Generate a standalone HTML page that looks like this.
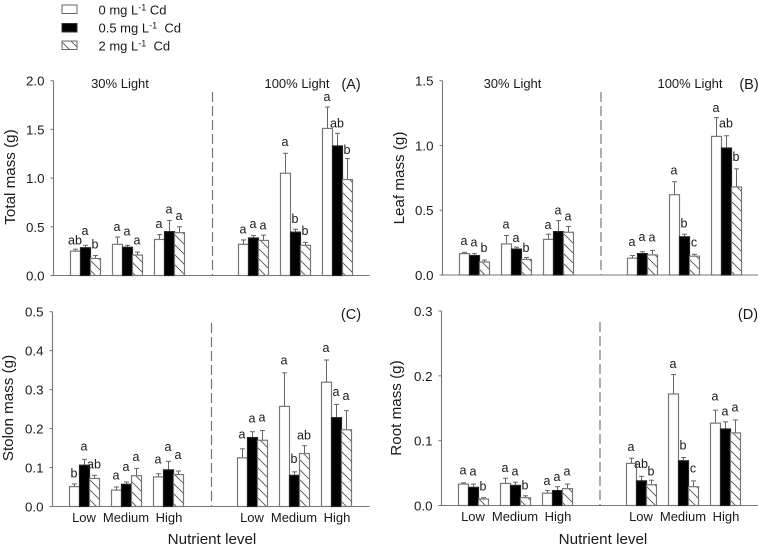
<!DOCTYPE html>
<html>
<head>
<meta charset="utf-8">
<title>Biomass by nutrient level, light and Cd</title>
<style>
html,body{margin:0;padding:0;background:#fff;width:758px;height:547px;overflow:hidden}
svg{display:block}
text{font-family:"Liberation Sans",Arial,sans-serif;fill:#1a1a1a}
.tick{font-size:13.3px;text-anchor:end}
.title{font-size:15.2px;text-anchor:middle}
.hdr{font-size:13px;text-anchor:middle}
.tag{font-size:14.5px;text-anchor:middle}
.leg{font-size:13px}
.sup{font-size:9px}
.let{font-size:12.5px;text-anchor:middle}
.cat{font-size:13px;text-anchor:middle}
</style>
</head>
<body>
<svg id="chart" width="758" height="547" viewBox="0 0 758 547" xmlns="http://www.w3.org/2000/svg">
<defs>
<pattern id="hatch" patternUnits="userSpaceOnUse" width="10" height="10">
<path d="M-2,-2 L12,12 M-2,8 L2,12 M8,-2 L12,2" stroke="#555" stroke-width="0.9" fill="none"/>
</pattern>
</defs>

<g>
<rect x="62" y="5" width="15" height="8.5" fill="#fff" stroke="#666"/>
<text class="leg" x="98.5" y="14.5">0 mg L<tspan class="sup" dy="-4">-1</tspan><tspan dy="4"> Cd</tspan></text>
<rect x="62" y="23.5" width="15" height="8.5" fill="#000" stroke="#333"/>
<text class="leg" x="98.5" y="32.5">0.5 mg L<tspan class="sup" dy="-4">-1</tspan><tspan dy="4" xml:space="preserve">  Cd</tspan></text>
<rect x="62" y="41" width="15" height="8.5" fill="url(#hatch)" stroke="#666"/>
<text class="leg" x="98.5" y="50.5">2 mg L<tspan class="sup" dy="-4">-1</tspan><tspan dy="4" xml:space="preserve">  Cd</tspan></text>
</g>

<text class="title" transform="translate(15,177) rotate(-90)">Total mass (g)</text>
<text class="title" transform="translate(404,178) rotate(-90)">Leaf mass (g)</text>
<text class="title" transform="translate(13,408) rotate(-90)">Stolon mass (g)</text>
<text class="title" transform="translate(401,408) rotate(-90)">Root mass (g)</text>

<text class="hdr" x="120" y="88">30% Light</text>
<text class="hdr" x="297" y="88">100% Light</text>
<text class="tag" x="351" y="89">(A)</text>
<text class="hdr" x="512.5" y="88">30% Light</text>
<text class="hdr" x="690" y="88">100% Light</text>
<text class="tag" x="749" y="89">(B)</text>
<text class="tag" x="351" y="319">(C)</text>
<text class="tag" x="748" y="319">(D)</text>

<text class="title" x="212" y="544">Nutrient level</text>
<text class="title" x="603" y="544">Nutrient level</text>
</svg>

<script>
const categories = ["Low", "Medium", "High", "Low", "Medium", "High"];
const series = ["0 mg Cd", "0.5 mg Cd", "2 mg Cd"];

const totalTicks = ["0.0", "0.5", "1.0", "1.5", "2.0"];
const totalMeans = [0.25,0.285,0.175, 0.32,0.29,0.21, 0.37,0.45,0.44, 0.32,0.385,0.36, 1.05,0.445,0.31, 1.51,1.33,0.985];
const totalUppers = [0.27,0.31,0.205, 0.395,0.31,0.24, 0.42,0.565,0.50, 0.365,0.41,0.415, 1.255,0.475,0.34, 1.73,1.46,1.2];
const totalLetters = ["ab","a","b", "a","a","a", "a","a","a", "a","a","a", "a","b","b", "a","ab","b"];
const totalLetterLevels = [0.32,0.415,0.277, 0.455,0.41,0.32, 0.49,0.637,0.57, 0.43,0.49,0.47, 1.33,0.54,0.415, 1.79,1.52,1.25];

const leafTicks = ["0.0", "0.5", "1.0", "1.5"];
const leafMeans = [0.165,0.15,0.10, 0.24,0.2,0.12, 0.275,0.335,0.33, 0.13,0.165,0.155, 0.62,0.295,0.145, 1.07,0.98,0.68];
const leafUppers = [0.175,0.165,0.115, 0.305,0.215,0.135, 0.315,0.42,0.375, 0.15,0.18,0.19, 0.72,0.315,0.16, 1.215,1.075,0.82];
const leafLetters = ["a","a","b", "a","a","b", "a","a","a", "a","a","a", "a","b","c", "a","ab","b"];
const leafLetterLevels = [0.23,0.22,0.178, 0.36,0.255,0.178, 0.355,0.468,0.42, 0.224,0.262,0.257, 0.777,0.368,0.219, 1.26,1.14,0.88];

const stolonTicks = ["0.0", "0.1", "0.2", "0.3", "0.4", "0.5"];
const stolonMeans = [0.051,0.106,0.072, 0.042,0.057,0.079, 0.076,0.094,0.082, 0.125,0.177,0.17, 0.257,0.08,0.136, 0.319,0.228,0.197];
const stolonUppers = [0.058,0.121,0.08, 0.05,0.063,0.098, 0.084,0.116,0.091, 0.148,0.192,0.195, 0.343,0.089,0.156, 0.376,0.262,0.246];
const stolonLetters = ["b","a","ab", "a","a","a", "a","a","a", "a","a","a", "a","b","ab", "a","a","a"];
const stolonLetterLevels = [0.074,0.144,0.097, 0.069,0.091,0.117, 0.111,0.142,0.122, 0.174,0.216,0.218, 0.365,0.112,0.172, 0.397,0.284,0.273];

const rootTicks = ["0.0", "0.1", "0.2", "0.3"];
const rootMeans = [0.033,0.028,0.01, 0.034,0.031,0.012, 0.019,0.023,0.026, 0.065,0.038,0.032, 0.172,0.069,0.029, 0.127,0.118,0.112];
const rootUppers = [0.035,0.033,0.012, 0.042,0.036,0.015, 0.023,0.029,0.033, 0.073,0.045,0.039, 0.202,0.074,0.038, 0.147,0.129,0.132];
const rootLetters = ["a","a","b", "a","a","b", "a","a","a", "a","ab","b", "a","b","c", "a","a","a"];
const rootLetterLevels = [0.048,0.046,0.023, 0.052,0.046,0.025, 0.032,0.038,0.046, 0.084,0.058,0.046, 0.212,0.086,0.051, 0.162,0.139,0.145];

const NS = "http://www.w3.org/2000/svg";
const svg = document.getElementById("chart");
const AXIS = "#777";
const BAR_W = 10;
const PITCH = 42;

function make(parent, tag, attrs) {
  const el = document.createElementNS(NS, tag);
  for (const k in attrs) el.setAttribute(k, attrs[k]);
  parent.appendChild(el);
  return el;
}

function drawPanel(p) {
  const yMax = parseFloat(p.ticks[p.ticks.length - 1]);
  const yScale = v => p.y0 - (v / yMax) * (p.y0 - p.yTop);
  const groupX = g => (g < 3 ? p.start1 + g * PITCH : p.start2 + (g - 3) * PITCH);
  const barX = (g, s) => groupX(g) + s * BAR_W;

  const root = make(svg, "g", {});
  
  

  const yAxis = make(root, "line", {x1: p.x0, x2: p.x0, y1: p.yTop, y2: p.y0, stroke: AXIS, "stroke-width": 1.1});
  
  

  const xAxis = make(root, "line", {x1: p.x0 - 3, x2: p.xEnd, y1: p.y0, y2: p.y0, stroke: AXIS, "stroke-width": 1.1});
  
  

  const divider = make(root, "line", {x1: p.dashX, x2: p.dashX, y1: p.dashTop, y2: p.y0, stroke: "#777", "stroke-width": 1.2, "stroke-dasharray": "10 4"});
  
  

  p.ticks.forEach(t => {
    const y = yScale(parseFloat(t));
    const mark = make(root, "line", {x1: p.x0 - 3, x2: p.x0, y1: y, y2: y, stroke: AXIS, "stroke-width": 1});
    
    
    const lab = make(root, "text", {class: "tick", x: p.x0 - 9, y: y + 5});
    lab.textContent = t;
    
    
  });

  for (let g = 0; g < categories.length; g++) {
    for (let s = 0; s < series.length; s++) {
      const i = g * series.length + s;
      const x = barX(g, s);
      const cx = x + BAR_W / 2;
      const top = yScale(p.means[i]);
      const up = yScale(p.uppers[i]);

      const stem = make(root, "line", {x1: cx, x2: cx, y1: top, y2: up, stroke: "#666", "stroke-width": 1});
      
      
      const cap = make(root, "line", {x1: cx - 2.5, x2: cx + 2.5, y1: up, y2: up, stroke: "#666", "stroke-width": 1});
      
      

      const fills = ["#fff", "#000", "url(#hatch)"];
      if (s === 2) make(root, "rect", {x: x, y: top, width: BAR_W, height: p.y0 - top, fill: "#fff"});
      const bar = make(root, "rect", {x: x, y: top, width: BAR_W, height: p.y0 - top, fill: fills[s], stroke: s === 1 ? "#222" : "#777", "stroke-width": 1.2});
      
      
      bar.setAttribute('aria-label', categories[g] + " " + series[s]);

      const let_ = make(root, "text", {class: "let", x: cx - 0.5, y: yScale(p.levels[i])});
      let_.textContent = p.letters[i];
      
      
    }
    if (p.showCats) {
      const c = make(root, "text", {class: "cat", x: groupX(g) + BAR_W * 1.5 + (categories[g] === "High" ? 1 : 0) - 0.5, y: p.y0 + 15.5});
      c.textContent = categories[g];
      
      
    }
  }
}

drawPanel({name: "panel-a-total-mass", ticks: totalTicks, means: totalMeans, uppers: totalUppers, letters: totalLetters, levels: totalLetterLevels,
  x0: 53.5, y0: 275.5, yTop: 80.7, xEnd: 369.5, start1: 70.5, start2: 238.5, dashX: 212.5, dashTop: 92, showCats: false});
drawPanel({name: "panel-b-leaf-mass", ticks: leafTicks, means: leafMeans, uppers: leafUppers, letters: leafLetters, levels: leafLetterLevels,
  x0: 442.5, y0: 275, yTop: 80.7, xEnd: 758, start1: 459.5, start2: 627.5, dashX: 601, dashTop: 92, showCats: false});
drawPanel({name: "panel-c-stolon-mass", ticks: stolonTicks, means: stolonMeans, uppers: stolonUppers, letters: stolonLetters, levels: stolonLetterLevels,
  x0: 52.5, y0: 506.5, yTop: 311.7, xEnd: 369.5, start1: 69.5, start2: 237.5, dashX: 211.5, dashTop: 323, showCats: true});
drawPanel({name: "panel-d-root-mass", ticks: rootTicks, means: rootMeans, uppers: rootUppers, letters: rootLetters, levels: rootLetterLevels,
  x0: 441.5, y0: 505.5, yTop: 311, xEnd: 758, start1: 458.5, start2: 626.5, dashX: 600, dashTop: 322, showCats: true});
</script>
</body>
</html>
